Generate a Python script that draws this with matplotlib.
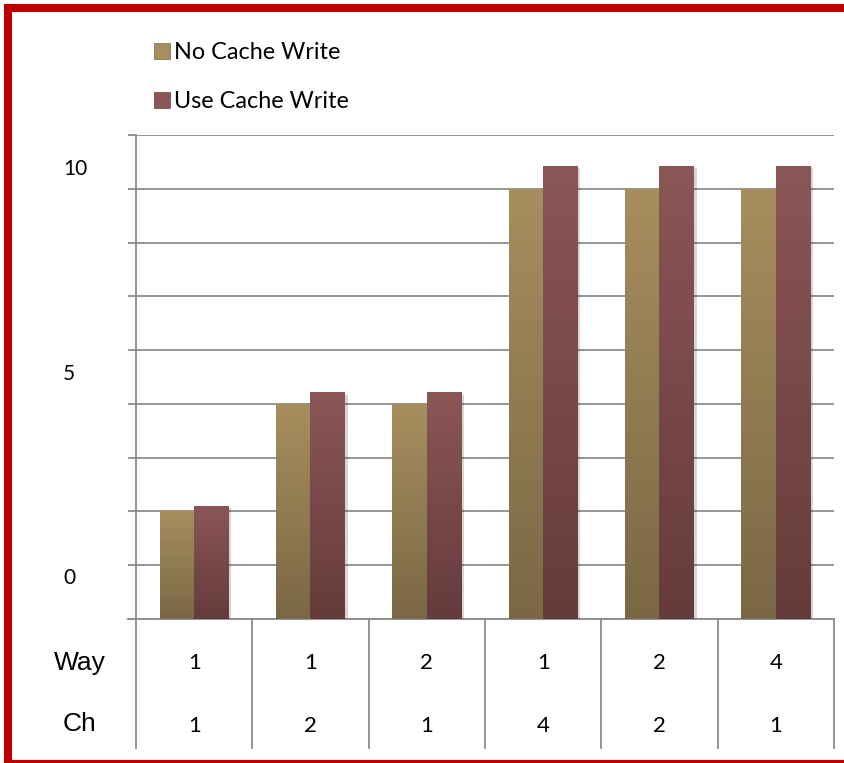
import matplotlib.pyplot as plt
import matplotlib.patheffects as pe
from matplotlib.colors import LinearSegmentedColormap
from matplotlib.lines import Line2D
import numpy as np

# data (bar heights in gridline units)
categories = ['1', '2', '3', '4', '5', '6']
way = ['1', '1', '2', '1', '2', '4']
ch = ['1', '2', '1', '4', '2', '1']
no_cache = [2.0, 4.0, 4.0, 8.0, 8.0, 8.0]
use_cache = [2.11, 4.22, 4.22, 8.43, 8.43, 8.43]
series_names = ['No Cache Write', 'Use Cache Write']
ytick_labels = ['0', '5', '10']
ytick_pos = [0.8, 4.6, 8.4]

colors_top = ['#a78e5e', '#8b5656']
colors_bot = ['#7a6845', '#663b3c']

W, H = 845, 763
fig = plt.figure(figsize=(W / 100, H / 100), dpi=100)
ax = fig.add_axes([136 / W, 1 - 619 / H, (834 - 136) / W, (619 - 135) / H])

x = np.arange(len(categories))
bw = 0.297
grid_c = '#8c8c8c'

handles = []
for k, vals in enumerate([no_cache, use_cache]):
    off = (k - 0.5) * bw
    bars = ax.bar(x + off, vals, bw, color=colors_top[k], zorder=3, linewidth=0,
                  path_effects=[pe.SimplePatchShadow(offset=(2, -2), alpha=0.18), pe.Normal()])
    cmap = LinearSegmentedColormap.from_list('g%d' % k, [colors_bot[k], colors_top[k]])
    grad = np.linspace(0, 1, 256).reshape(-1, 1)
    for b in bars:
        x0 = b.get_x()
        img = ax.imshow(grad, extent=[x0, x0 + b.get_width(), 0, b.get_height()], origin='lower',
                        cmap=cmap, aspect='auto', zorder=3.5, interpolation='bilinear')
        img.set_clip_path(b)
    handles.append(Line2D([], [], marker='s', linestyle='none', markersize=11.5,
                          markerfacecolor=colors_top[k], markeredgecolor=colors_bot[k], markeredgewidth=0.5))

ax.set_xlim(-0.5, len(categories) - 0.5)
ax.set_ylim(0, 9)

# grid and ticks
ax.set_yticks(np.arange(0, 10))
ax.yaxis.grid(True, color=grid_c, linewidth=1.3, zorder=1)
ax.set_axisbelow(True)
ax.tick_params(axis='y', which='major', length=6, width=1.3, color=grid_c, labelleft=False)
ax.set_yticks(ytick_pos, ytick_labels, minor=True)
ax.tick_params(axis='y', which='minor', length=0, pad=52.5, labelsize=15)
for lab in ax.get_yticklabels(minor=True):
    lab.set_horizontalalignment('left')
    lab.set_fontfamily('Lato')
ax.set_xticks([])
for s in ['top', 'right']:
    ax.spines[s].set_visible(False)
ax.spines['left'].set_color(grid_c)
ax.spines['left'].set_linewidth(1.3)
ax.spines['bottom'].set_color(grid_c)
ax.spines['bottom'].set_linewidth(1.3)

# table under the axis
tb = ax.get_xaxis_transform()
tbot = -(748 - 619) / (619 - 135)
for xv in np.arange(-0.5, len(categories), 1.0):
    ax.plot([xv, xv], [0, tbot], transform=tb, color=grid_c, lw=1.3, clip_on=False)
ax.plot([-0.5 - 8 / 116.3, -0.5], [0, 0], transform=tb, color=grid_c, lw=1.3, clip_on=False)
y_way = -(663 - 619) / (619 - 135)
y_ch = -(726 - 619) / (619 - 135)
for i in range(len(categories)):
    ax.text(x[i], y_way, way[i], transform=tb, ha='center', va='center', fontsize=16, family='Lato')
    ax.text(x[i], y_ch, ch[i], transform=tb, ha='center', va='center', fontsize=16, family='Lato')
fig.text(80 / W, 1 - 663 / H, 'Way', ha='center', va='center', fontsize=19, family='Liberation Sans')
fig.text(80 / W, 1 - 724 / H, 'Ch', ha='center', va='center', fontsize=19, family='Liberation Sans')

fig.legend(handles, series_names, loc='upper left', bbox_to_anchor=(143 / W, 1 - 33 / H),
           frameon=False, prop={'family': 'Lato', 'size': 16.8}, handletextpad=0.15,
           labelspacing=1.2, borderaxespad=0, handlelength=0.8)

# red frame
red = '#c00000'
fig.add_artist(Line2D([8 / W, 8 / W], [0, 1 - 4 / H], color=red, lw=5.8, transform=fig.transFigure, solid_capstyle='butt'))
fig.add_artist(Line2D([4 / W, 1], [1 - 8 / H, 1 - 8 / H], color=red, lw=5.8, transform=fig.transFigure, solid_capstyle='butt'))
fig.add_artist(Line2D([4 / W, 1], [1 - 762 / H, 1 - 762 / H], color=red, lw=3, transform=fig.transFigure, solid_capstyle='butt'))

fig.savefig('out.png', dpi=100)
